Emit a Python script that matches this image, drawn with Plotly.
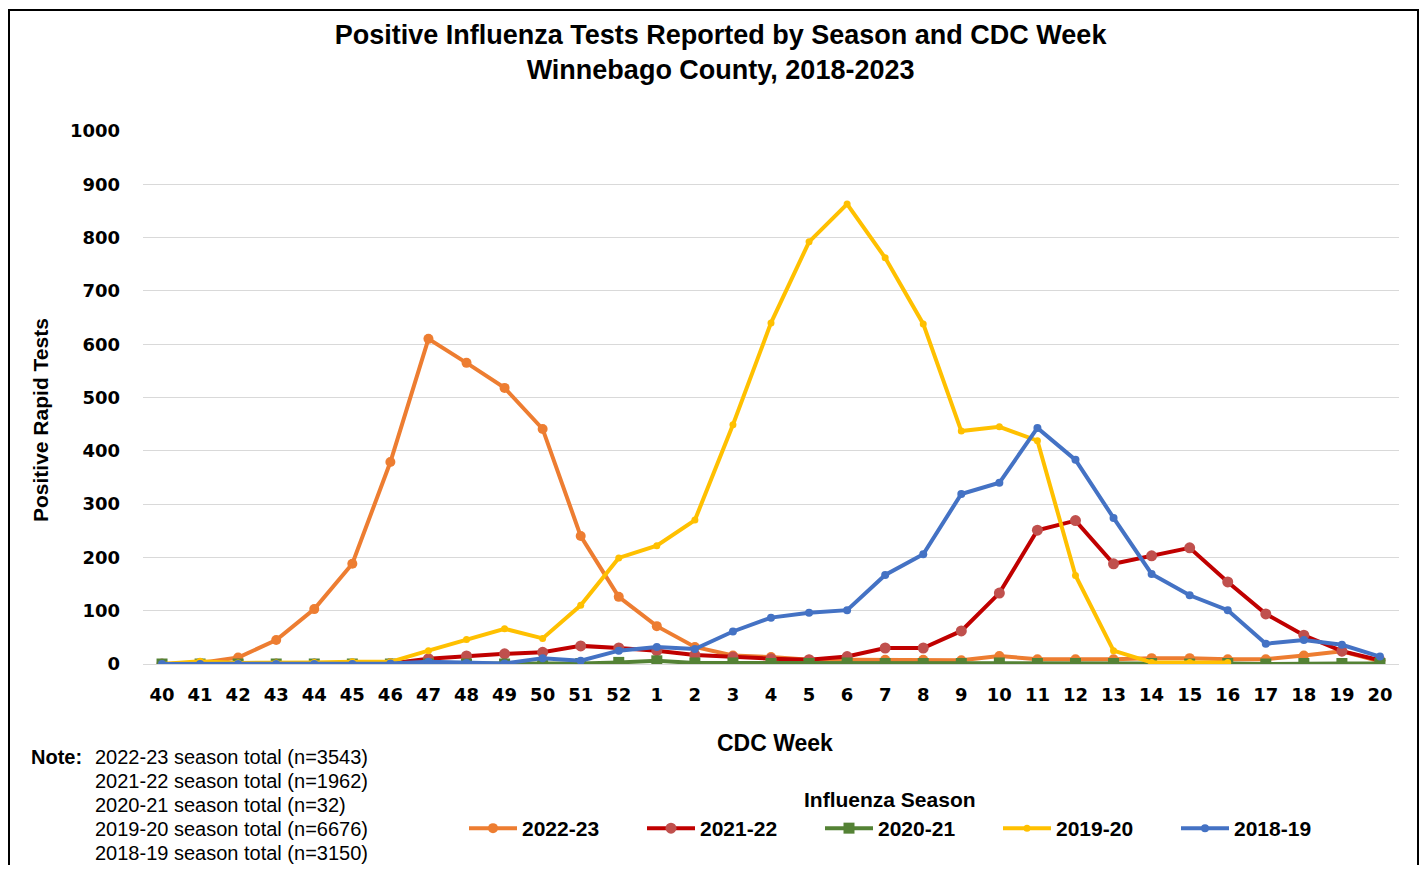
import plotly.graph_objects as go

weeks = [str(w) for w in range(40, 53)] + [str(w) for w in range(1, 21)]

s2022_23 = [0, 2, 12, 45, 103, 188, 379, 610, 565, 518, 441, 240, 126,
            71, 32, 16, 13, 8, 8, 8, 8, 7, 15, 9, 9, 9, 11, 11, 9, 9, 16, 24, 5]
s2021_22 = [0, 0, 0, 0, 0, 0, 1, 10, 15, 19, 22, 34, 30,
            25, 17, 13, 10, 8, 14, 30, 30, 62, 133, 251, 269, 188, 203, 218, 154, 94, 54, 24, 7]
s2020_21 = [0, 0, 0, 0, 0, 0, 0, 0, 0, 0, 1, 1, 3,
            6, 2, 2, 1, 1, 2, 1, 1, 1, 2, 1, 1, 1, 1, 0, 1, 0, 1, 1, 1]
s2019_20 = [0, 5, 2, 2, 3, 4, 4, 25, 46, 66, 48, 110, 199,
            222, 270, 449, 640, 792, 863, 762, 638, 437, 445, 419, 166, 25, 3, 3, 3,
            None, None, None, None]
s2018_19 = [0, 0, 0, 0, 0, 0, 1, 4, 2, 1, 11, 6, 25,
            32, 28, 61, 87, 96, 101, 167, 206, 319, 340, 443, 383, 274, 169, 129, 101, 38, 45, 36, 14]

season_totals = [("2022-23", 3543), ("2021-22", 1962), ("2020-21", 32),
                 ("2019-20", 6676), ("2018-19", 3150)]

# the page body has an 8px margin, so the figure is 1411x857 drawn at (8, 8)
FIG_W, FIG_H = 1411, 857
L, T, W, H = 135, 123, 1256, 533


# screen pixel -> paper coords
def px(x):
    return (x - 8 - L) / W


def py(y):
    return (T + H - (y - 8)) / H


series = [
    ("2022-23", s2022_23, "#ED7D31", "#ED7D31", "circle", 10),
    ("2021-22", s2021_22, "#C00000", "#C0504D", "circle", 11),
    ("2020-21", s2020_21, "#548235", "#548235", "square", 11),
    ("2019-20", s2019_20, "#FFC000", "#FFC000", "circle", 7),
    ("2018-19", s2018_19, "#4472C4", "#4472C4", "circle", 8),
]

fig = go.Figure()
for name, vals, lc, mc, sym, size in series:
    fig.add_trace(
        go.Scatter(
            x=weeks,
            y=vals,
            mode="lines+markers",
            name=name,
            line=dict(color=lc, width=4),
            marker=dict(color=mc, symbol=sym, size=size),
            connectgaps=False,
        )
    )

txt = dict(family="Liberation Sans", color="black")

annotations = [
    dict(text="<b>Positive Rapid Tests</b>", textangle=-90,
         x=px(40), y=py(420), xanchor="center", yanchor="middle",
         font=dict(size=21, **txt)),
    dict(text="<b>CDC Week</b>", x=px(775), y=py(743), xanchor="center", yanchor="middle",
         font=dict(size=23, **txt)),
    dict(text="<b>Influenza Season</b>", x=px(890), y=py(799), xanchor="center", yanchor="middle",
         font=dict(size=21, **txt)),
    dict(text="<b>Note:</b>", x=px(29), y=py(757), xanchor="left", yanchor="middle",
         font=dict(size=20, **txt)),
]
for i, (s, n) in enumerate(season_totals):
    annotations.append(
        dict(text=f"{s} season total (n={n})", x=px(93), y=py(757 + 24 * i),
             xanchor="left", yanchor="middle", font=dict(size=20, **txt))
    )
for a in annotations:
    a.update(xref="paper", yref="paper", showarrow=False)

fig.update_layout(
    width=FIG_W,
    height=FIG_H,
    paper_bgcolor="white",
    plot_bgcolor="white",
    margin=dict(l=L, r=FIG_W - L - W, t=T, b=FIG_H - T - H),
    title=dict(
        text="<b>Positive Influenza Tests Reported by Season and CDC Week<br>Winnebago County, 2018-2023</b>",
        x=0.505,
        xref="container",
        xanchor="center",
        y=0.958,
        yref="container",
        yanchor="top",
        font=dict(size=27, **txt),
    ),
    xaxis=dict(
        type="category",
        range=[-0.5, 32.5],
        showgrid=False,
        showline=True,
        linecolor="#D9D9D9",
        linewidth=1,
        ticks="",
        ticklabelstandoff=14,
        tickfont=dict(family="DejaVu Sans", size=18, color="black", weight="bold"),
    ),
    yaxis=dict(
        range=[0, 1000],
        dtick=100,
        showgrid=True,
        gridcolor="#D9D9D9",
        gridwidth=1,
        zeroline=False,
        ticks="",
        ticklabelstandoff=22,
        tickfont=dict(family="DejaVu Sans", size=18, color="black", weight="bold"),
    ),
    legend=dict(
        orientation="h",
        x=px(464),
        xanchor="left",
        y=py(808),
        yanchor="top",
        font=dict(family="Liberation Sans", size=21, color="black", weight="bold"),
        itemwidth=48,
        entrywidth=115,
        entrywidthmode="pixels",
        traceorder="normal",
    ),
    showlegend=True,
    shapes=[
        dict(type="rect", xref="paper", yref="paper",
             x0=px(9), x1=px(1418), y0=py(880), y1=py(10),
             line=dict(color="black", width=2), fillcolor="rgba(0,0,0,0)", layer="below"),
    ],
    annotations=annotations,
)

fig.write_html("out.html")
